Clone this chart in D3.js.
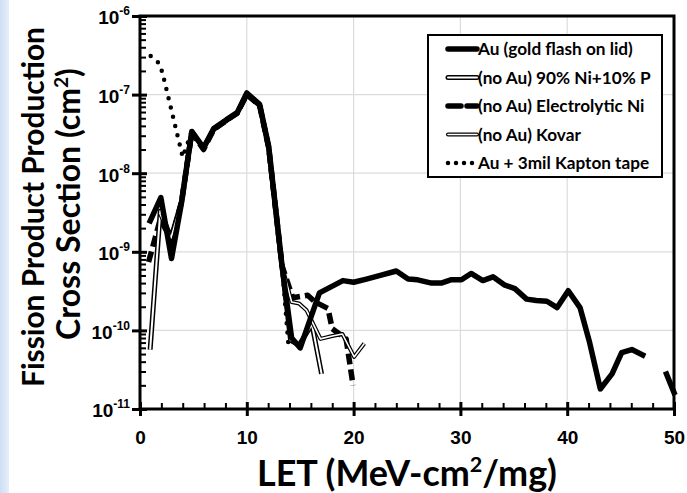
<!DOCTYPE html>
<html>
<head>
<meta charset="utf-8">
<script src="https://cdn.jsdelivr.net/npm/d3@7"></script>
<style>
  body { margin: 0; background: #fff; }
  svg { display: block; font-family: Lato, "Open Sans", sans-serif; }
</style>
</head>
<body>
<div id="content"></div>
<script>
// LET (MeV-cm2/mg) vs cross section (cm2); null = gap in the curve
const auGold = [
  [0.85, 2.3e-9], [1.95, 4.9e-9], [2.95, 8.2e-10], [3.9, 4.3e-9], [4.85, 3.4e-8],
  [5.95, 2.1e-8], [6.9, 3.7e-8], [8.1, 4.8e-8], [9.1, 5.9e-8], [10.0, 1.05e-7],
  [11.2, 7.5e-8], [12.05, 2.2e-8], [13.3, 6.6e-10], [14.2, 8.0e-11], [15.0, 6.0e-11],
  [16.8, 3.0e-10], [19.0, 4.3e-10], [20.0, 4.1e-10], [21.2, 4.5e-10], [22.5, 5.0e-10],
  [24.0, 5.7e-10], [25.1, 4.5e-10], [26.0, 4.4e-10], [27.3, 4.0e-10], [28.2, 4.0e-10],
  [29.1, 4.4e-10], [30.1, 4.4e-10], [31.0, 5.3e-10], [32.1, 4.3e-10], [33.05, 4.8e-10],
  [34.1, 3.8e-10], [35.1, 3.4e-10], [36.2, 2.5e-10], [37.1, 2.4e-10], [38.1, 2.35e-10],
  [39.06, 1.95e-10], [40.1, 3.2e-10], [41.2, 1.95e-10], [42.1, 7.0e-11], [43.1, 1.8e-11],
  [44.2, 2.8e-11], [45.1, 5.2e-11], [46.05, 5.7e-11], [47.3, 4.7e-11], null,
  [49.2, 3.0e-11], [50.1, 1.5e-11]
];
const niP = [
  [0.95, 5.7e-11], [1.9, 3.3e-9], [2.9, 1.5e-9], [3.9, 4.4e-9], [4.85, 3.3e-8],
  [5.95, 2.1e-8], [6.9, 3.6e-8], [8.1, 4.7e-8], [9.1, 5.8e-8], [10.0, 1.0e-7],
  [11.2, 7.3e-8], [12.05, 2.1e-8], [13.3, 6.4e-10], [14.1, 7.5e-11], [14.9, 6.5e-11],
  [16.1, 1.2e-10], [17.0, 2.8e-11]
];
const electrolyticNi = [
  [0.8, 7.4e-10], [1.9, 2.6e-9], [2.95, 1.4e-9], [3.9, 4.4e-9], [4.85, 3.3e-8],
  [5.95, 2.0e-8], [6.9, 3.6e-8], [8.1, 4.7e-8], [9.1, 5.8e-8], [10.0, 1.0e-7],
  [11.2, 7.3e-8], [12.05, 2.1e-8], [13.3, 6.6e-10], [14.3, 2.6e-10], [15.7, 2.8e-10],
  [16.4, 2.3e-10], [17.6, 1.9e-10], [18.0, 1.05e-10], [19.3, 7.8e-11], [19.95, 2.0e-11]
];
const kovar = [
  [1.9, 3.0e-9], [2.9, 1.5e-9], [3.9, 4.4e-9], [4.85, 3.3e-8], [5.95, 2.1e-8],
  [6.9, 3.6e-8], [8.1, 4.7e-8], [9.1, 5.8e-8], [10.0, 1.0e-7], [11.2, 7.3e-8],
  [12.05, 2.1e-8], [13.3, 6.6e-10], [14.2, 2.3e-10], [14.9, 2.2e-10], [15.6, 1.8e-10],
  [16.9, 7.8e-11], [18.0, 8.5e-11], [18.95, 9.0e-11], [20.05, 4.6e-11], [21.0, 6.8e-11]
];
const kapton = [
  [1.0, 3.1e-7], [1.8, 2.5e-7], [2.1, 1.9e-7], [4.0, 1.6e-8], [4.85, 3.4e-8],
  [5.95, 2.1e-8], [6.9, 3.7e-8], [8.1, 4.8e-8], [9.1, 5.9e-8], [10.0, 1.05e-7],
  [11.2, 7.5e-8], [12.05, 2.2e-8], [13.3, 6.6e-10], [13.9, 6.5e-11]
];

const seriesNames = [
  "Au (gold flash on lid)",
  "(no Au) 90% Ni+10% P",
  "(no Au) Electrolytic Ni",
  "(no Au) Kovar",
  "Au + 3mil Kapton tape"
];
const xTicks = [0, 10, 20, 30, 40, 50];
const yExponents = [-6, -7, -8, -9, -10, -11];

// line styles: outer stroke, optional inner (white core) stroke
const styles = [
  { w: 5.5, dash: null },
  { w: 5, inner: 2, dash: null },
  { w: 5.5, dash: "11,5" },
  { w: 4, inner: 1.6, dash: null },
  { w: 4.5, dash: "0,9.5" }
];
const seriesData = [auGold, niP, electrolyticNi, kovar, kapton];

const W = 687, H = 493;
const margin = { top: 16, right: 13, bottom: 84, left: 140 };
const width = W - margin.left - margin.right;
const height = H - margin.top - margin.bottom;

// scale a text's font size so it spans the given width
function fitWidth(sel, target) {
  const len = sel.node().getComputedTextLength();
  const fs = parseFloat(sel.attr("font-size"));
  sel.attr("font-size", (fs * target) / len);
  return sel;
}

const root = d3.select("#content").append("svg").attr("width", W).attr("height", H);

// light blue slide edge on the left
const grad = root.append("defs").append("linearGradient").attr("id", "edge");
grad.append("stop").attr("offset", "0%").attr("stop-color", "#cddff5");
grad.append("stop").attr("offset", "100%").attr("stop-color", "#e6eefa");
root.append("rect").attr("x", 0).attr("y", 0).attr("width", 9).attr("height", H).attr("fill", "url(#edge)");

const svg = root.append("g").attr("transform", `translate(${margin.left},${margin.top})`);

const x = d3.scaleLinear().domain([0, 50]).range([0, width]);
const y = d3.scaleLog().domain([1e-11, 1e-6]).range([height, 0]);

// grid
svg.append("g").selectAll("line").data(xTicks.slice(1, -1)).enter().append("line")
  .attr("x1", (d) => x(d)).attr("x2", (d) => x(d)).attr("y1", 0).attr("y2", height)
  .attr("stroke", "#dcdcdc").attr("stroke-width", 1.2);
svg.append("g").selectAll("line").data(yExponents.slice(1, -1)).enter().append("line")
  .attr("y1", (d) => y(Math.pow(10, d))).attr("y2", (d) => y(Math.pow(10, d)))
  .attr("x1", 0).attr("x2", width)
  .attr("stroke", "#dcdcdc").attr("stroke-width", 1.2);

// curves
const line = d3.line()
  .defined((d) => d !== null)
  .x((d) => x(d[0]))
  .y((d) => y(d[1]));

const drawOrder = [4, 2, 1, 3, 0];
drawOrder.forEach((i) => {
  const s = styles[i];
  svg.append("path")
    .datum(seriesData[i])
    .attr("d", line)
    .attr("fill", "none")
    .attr("stroke", "#000")
    .attr("stroke-width", s.w)
    .attr("stroke-linejoin", "round")
    .attr("stroke-linecap", s.dash && s.dash.startsWith("0") ? "round" : "butt")
    .attr("stroke-dasharray", s.dash);
  if (s.inner) {
    svg.append("path")
      .datum(seriesData[i])
      .attr("d", line)
      .attr("fill", "none")
      .attr("stroke", "#fff")
      .attr("stroke-width", s.inner)
      .attr("stroke-linejoin", "round");
  }
});

// frame
svg.append("rect").attr("x", 0).attr("y", 0).attr("width", width).attr("height", height)
  .attr("fill", "none").attr("stroke", "#000").attr("stroke-width", 3);

// y axis: majors both sides, log minors inside
const yMinor = [];
for (let e = -11; e < -6; e++) for (let m = 2; m <= 9; m++) yMinor.push(m * Math.pow(10, e));

svg.append("g").call(d3.axisLeft(y).tickValues(yMinor).tickSize(-6).tickFormat(""))
  .call((g) => g.select(".domain").remove())
  .selectAll("line").attr("stroke-width", 2);
svg.append("g").call(d3.axisLeft(y).tickValues(yExponents.map((e) => Math.pow(10, e))).tickSize(-7).tickFormat(""))
  .call((g) => g.select(".domain").remove())
  .selectAll("line").attr("stroke-width", 3);
const yAxis = svg.append("g").attr("class", "y-axis")
  .call(d3.axisLeft(y).tickValues(yExponents.map((e) => Math.pow(10, e))).tickSize(8).tickPadding(2).tickFormat(""));
yAxis.select(".domain").remove();
yAxis.selectAll("line").attr("stroke-width", 3);
yAxis.selectAll(".tick text").each(function (d) {
  const t = d3.select(this)
    .attr("font-size", 19).attr("font-weight", 700).attr("fill", "#000")
    .attr("dy", "0.42em");
  t.append("tspan").text("10");
  t.append("tspan").attr("font-size", 12).attr("dy", "-0.75em")
    .text(String(Math.round(Math.log10(d))));
});

// x axis: majors both sides, minors every 2 inside
const xMinor = d3.range(2, 50, 2).filter((v) => v % 10 !== 0);
svg.append("g").attr("transform", `translate(0,${height})`)
  .call(d3.axisBottom(x).tickValues(xMinor).tickSize(-6).tickFormat(""))
  .call((g) => g.select(".domain").remove())
  .selectAll("line").attr("stroke-width", 2);
svg.append("g").attr("transform", `translate(0,${height})`)
  .call(d3.axisBottom(x).tickValues(xTicks).tickSize(-7).tickFormat(""))
  .call((g) => g.select(".domain").remove())
  .selectAll("line").attr("stroke-width", 3);
const xAxis = svg.append("g").attr("transform", `translate(0,${height})`)
  .call(d3.axisBottom(x).tickValues(xTicks).tickSize(7).tickPadding(15));
xAxis.select(".domain").remove();
xAxis.selectAll("line").attr("stroke-width", 3);
xAxis.selectAll("text").attr("font-size", 19).attr("font-weight", 700).attr("fill", "#000");

// axis titles
const xTitle = root.append("text")
  .attr("x", margin.left + width / 2).attr("y", 486)
  .attr("text-anchor", "middle").attr("font-size", 23).attr("font-weight", 700);
xTitle.append("tspan").text("LET (MeV-cm");
xTitle.append("tspan").attr("font-size", "0.6em").attr("dy", "-0.65em").text("2");
xTitle.append("tspan").attr("dy", "0.39em").text("/mg)");
fitWidth(xTitle, 300);

const yTitle1 = root.append("text")
  .attr("transform", "translate(44,207) rotate(-90)")
  .attr("text-anchor", "middle").attr("font-size", 25).attr("font-weight", 700)
  .text("Fission Product Production");
fitWidth(yTitle1, 360);
const yTitle2 = root.append("text")
  .attr("transform", "translate(80,204) rotate(-90)")
  .attr("text-anchor", "middle").attr("font-size", 25).attr("font-weight", 700);
yTitle2.append("tspan").text("Cross Section (cm");
yTitle2.append("tspan").attr("font-size", "0.6em").attr("dy", "-0.65em").text("2");
yTitle2.append("tspan").attr("dy", "0.39em").text(")");
fitWidth(yTitle2, 272);

// legend
const legend = root.append("g").attr("transform", "translate(428,35)");
legend.append("rect").attr("width", 234).attr("height", 142)
  .attr("fill", "#fff").attr("stroke", "#000").attr("stroke-width", 2);

let legendFont = null;
seriesNames.forEach((name, i) => {
  const s = styles[i];
  const item = legend.append("g").attr("transform", `translate(0,${14 + i * 28.5})`);
  item.append("line").attr("x1", 20).attr("x2", 49).attr("y1", 0).attr("y2", 0)
    .attr("stroke", "#000").attr("stroke-width", s.w)
    .attr("stroke-linecap", "round")
    .attr("stroke-dasharray", s.dash ? (s.dash.startsWith("0") ? "0,8" : "13,6") : null);
  if (s.inner) {
    item.append("line").attr("x1", 20).attr("x2", 49).attr("y1", 0).attr("y2", 0)
      .attr("stroke", "#fff").attr("stroke-width", s.inner).attr("stroke-linecap", "round");
  }
  const t = item.append("text").attr("x", 50).attr("y", 0).attr("dy", "0.36em")
    .attr("font-size", 13.5).attr("font-weight", 700).text(name);
  if (legendFont === null) legendFont = parseFloat(fitWidth(t, 155).attr("font-size"));
  else t.attr("font-size", legendFont);
});
</script>
</body>
</html>
